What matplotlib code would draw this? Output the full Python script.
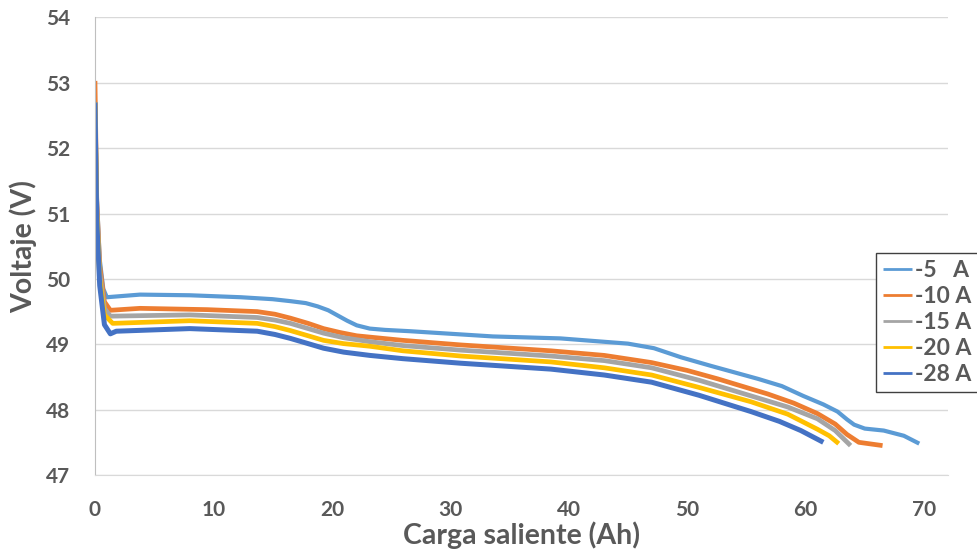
import matplotlib
matplotlib.use("Agg")
import matplotlib.pyplot as plt

# Carga saliente (Ah) / Voltaje (V)
ah_5 = [0, 0.15, 0.4, 0.7, 1.0, 3.8, 8.0, 12.3, 15.0, 16.5, 17.8, 18.8, 19.7, 20.5, 21.3,
        22.1, 23.2, 24.5, 26.6, 33.6, 39.3, 45.0, 47.2, 49.5, 52.0, 56.0, 58.0, 59.8, 61.5,
        62.7, 63.5, 64.1, 65.0, 66.6, 68.3, 69.6]
v_5 = [52.73, 51.3, 50.3, 49.85, 49.72, 49.76, 49.75, 49.72, 49.69, 49.66, 49.63, 49.58,
       49.52, 49.44, 49.36, 49.29, 49.24, 49.22, 49.2, 49.12, 49.09, 49.01, 48.94, 48.8,
       48.67, 48.47, 48.36, 48.21, 48.08, 47.97, 47.85, 47.77, 47.71, 47.68, 47.6, 47.48]

ah_10 = [0, 0.15, 0.4, 0.8, 1.3, 3.8, 9.5, 13.7, 15.2, 16.5, 18.0, 19.3, 20.7, 22.1, 23.2,
         26.0, 30.9, 38.5, 43.0, 47.0, 50.0, 52.6, 56.8, 59.0, 61.0, 62.5, 63.5, 64.5, 66.5]
v_10 = [53.03, 51.2, 50.2, 49.65, 49.52, 49.55, 49.53, 49.5, 49.46, 49.4, 49.32, 49.24,
        49.18, 49.13, 49.11, 49.06, 48.99, 48.9, 48.83, 48.72, 48.6, 48.47, 48.24, 48.1,
        47.94, 47.78, 47.62, 47.5, 47.45]

ah_15 = [0, 0.15, 0.4, 0.8, 1.3, 8.0, 13.7, 15.2, 16.5, 18.0, 19.3, 21.0, 23.2, 26.0,
         30.9, 38.5, 43.0, 47.0, 51.0, 55.4, 58.5, 61.0, 62.5, 63.8]
v_15 = [52.7, 51.1, 50.1, 49.55, 49.43, 49.45, 49.41, 49.37, 49.32, 49.24, 49.17, 49.1,
        49.04, 48.98, 48.91, 48.82, 48.75, 48.64, 48.45, 48.21, 48.04, 47.86, 47.68, 47.45]

ah_20 = [0, 0.15, 0.4, 0.8, 1.5, 8.0, 13.7, 15.2, 16.5, 18.0, 19.3, 21.0, 23.2, 26.0,
         30.9, 38.5, 43.0, 47.0, 51.0, 55.4, 58.5, 61.0, 62.0, 62.8]
v_20 = [52.7, 51.0, 50.0, 49.45, 49.32, 49.36, 49.32, 49.27, 49.21, 49.13, 49.06, 49.01,
        48.97, 48.9, 48.82, 48.73, 48.64, 48.53, 48.34, 48.12, 47.93, 47.7, 47.6, 47.48]

ah_28 = [0, 0.15, 0.4, 0.8, 1.3, 1.8, 8.0, 13.7, 15.2, 16.5, 18.0, 19.3, 21.0, 23.2,
         26.0, 30.9, 38.5, 43.0, 47.0, 51.0, 55.4, 57.8, 59.6, 61.5]
v_28 = [52.7, 50.9, 49.9, 49.3, 49.16, 49.2, 49.24, 49.2, 49.15, 49.09, 49.01, 48.94,
        48.88, 48.83, 48.78, 48.71, 48.62, 48.53, 48.42, 48.22, 47.97, 47.82, 47.68, 47.5]

series = [
    ("-5   A", ah_5, v_5, "#5B9BD5", 3.0),
    ("-10 A", ah_10, v_10, "#ED7D31", 3.4),
    ("-15 A", ah_15, v_15, "#A5A5A5", 3.4),
    ("-20 A", ah_20, v_20, "#FFC000", 3.4),
    ("-28 A", ah_28, v_28, "#4472C4", 3.6),
]

plt.rcParams["font.family"] = ["Lato", "DejaVu Sans"]
text_color = "#595959"

fig = plt.figure(figsize=(9.77, 5.52), dpi=100)
ax = fig.add_axes([0.0972, 0.1395, 0.8728, 0.8288])

for label, x, y, color, lw in series:
    ax.plot(x, y, color=color, lw=lw, label=label, solid_joinstyle="round",
            solid_capstyle="butt")

ax.set_xlim(0, 72)
ax.set_ylim(47, 54)
ax.set_xticks(range(0, 71, 10))
ax.set_yticks(range(47, 55))
ax.grid(axis="y", color="#D9D9D9", lw=1)
ax.set_axisbelow(True)
for side in ["top", "right"]:
    ax.spines[side].set_visible(False)
ax.spines["left"].set_color("#BFBFBF")
ax.spines["bottom"].set_color("#D9D9D9")
ax.tick_params(length=0, labelsize=15, labelcolor=text_color, pad=18)
for lab in ax.get_xticklabels() + ax.get_yticklabels():
    lab.set_fontweight("bold")

ax.set_xlabel("Carga saliente (Ah)", fontsize=20.5, fontweight="bold", color=text_color, labelpad=1)
ax.set_ylabel("Voltaje (V)", fontsize=20.5, fontweight="bold", color=text_color, labelpad=6)

leg = ax.legend(loc="upper left", bbox_to_anchor=(876 / 977, 1 - 253 / 552),
                bbox_transform=fig.transFigure, fancybox=False, framealpha=1,
                edgecolor="#404040", handlelength=1.25, handletextpad=0.15,
                labelspacing=0.22, borderpad=0.3, borderaxespad=0,
                prop={"weight": "bold", "size": 16.5})
leg.get_frame().set_linewidth(1)
for t in leg.get_texts():
    t.set_color(text_color)
for h in leg.get_lines():
    h.set_linewidth(2)

fig.savefig("out.png", dpi=100)
